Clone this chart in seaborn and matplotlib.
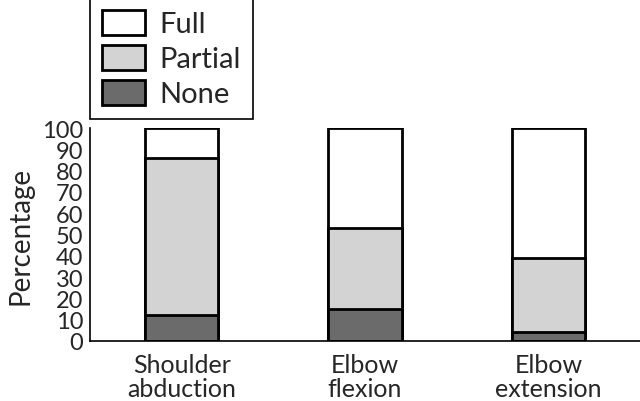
import matplotlib
matplotlib.use("Agg")
import matplotlib.pyplot as plt
import matplotlib.patches as mpatches
import pandas as pd
import seaborn as sns

# Data (percent of patients)
categories = ["Shoulder\nabduction", "Elbow\nflexion", "Elbow\nextension"]
none_pct = [12, 15, 4]
partial_pct = [74, 38, 35]
full_pct = [14, 47, 61]

df = pd.DataFrame({"category": categories, "none": none_pct,
                   "partial": partial_pct, "full": full_pct})
# cumulative tops for stacking
df["top_none"] = df["none"]
df["top_partial"] = df["none"] + df["partial"]
df["top_full"] = df["top_partial"] + df["full"]

sns.set_style("white")
plt.rcParams["font.family"] = ["Lato", "DejaVu Sans"]

colors = {"full": "#ffffff", "partial": "#d3d3d3", "none": "#6b6b6b"}

fig = plt.figure(figsize=(6.4, 4.02), dpi=100)
ax = fig.add_axes([90 / 640, 60 / 402, 550 / 640, 213 / 402])

for col, key in [("top_full", "full"), ("top_partial", "partial"), ("top_none", "none")]:
    sns.barplot(data=df, x="category", y=col, color=colors[key], saturation=1,
                edgecolor="black", linewidth=2, width=0.4, ax=ax)

ax.set_xlim(-0.5, 2.5)
ax.set_ylim(0, 100)
ax.set_yticks(range(0, 101, 10))
ax.set_xlabel("")
ax.set_ylabel("Percentage", fontsize=20, labelpad=6)
ax.tick_params(axis="y", direction="in", length=14, width=1.2, labelsize=17, pad=5)
ax.tick_params(axis="x", which="major", length=0, labelsize=18, pad=9)
ax.set_xticks([0.5, 1.5, 2.5], minor=True)
ax.tick_params(axis="x", which="minor", direction="in", length=14, width=1.2)
for lbl in ax.get_xticklabels():
    lbl.set_linespacing(1.05)

sns.despine(ax=ax)
for s in ["left", "bottom"]:
    ax.spines[s].set_linewidth(1.2)
    ax.spines[s].set_color("black")

handles = [mpatches.Patch(facecolor=colors[k], edgecolor="black", linewidth=2, label=k.capitalize())
           for k in ["full", "partial", "none"]]
leg = ax.legend(handles=handles, loc="lower left", bbox_to_anchor=(0, 1.04),
                fontsize=21, frameon=True, fancybox=False, framealpha=1,
                edgecolor="black", handlelength=1.45, handleheight=0.95,
                handletextpad=0.5, labelspacing=0.25, borderpad=0.42,
                borderaxespad=0)
leg.get_frame().set_linewidth(1.2)

fig.savefig("out.png", dpi=100)
